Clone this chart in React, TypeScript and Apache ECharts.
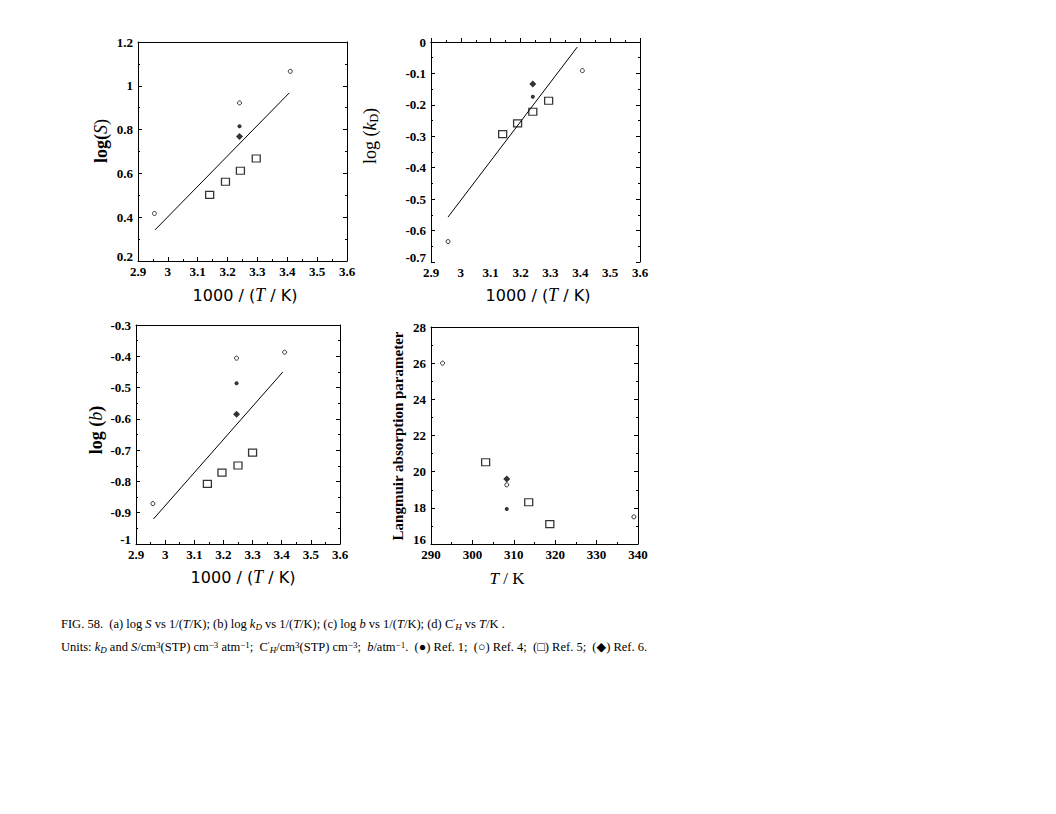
import React, { useEffect, useRef } from "react";
import * as echarts from "echarts";

// Panel (a): log S vs 1000/(T/K)
const aRef1 = [[3.24, 0.815]];
const aRef4 = [[2.955, 0.417], [3.24, 0.922], [3.41, 1.066]];
const aRef5 = [[3.14, 0.502], [3.193, 0.562], [3.243, 0.612], [3.296, 0.668]];
const aRef6 = [[3.24, 0.768]];
const aFit = [[2.957, 0.342], [3.407, 0.968]];

// Panel (b): log kD vs 1000/(T/K)
const bRef1 = [[3.241, -0.174]];
const bRef4 = [[2.957, -0.635], [3.407, -0.091]];
const bRef5 = [[3.14, -0.293], [3.19, -0.259], [3.241, -0.222], [3.294, -0.187]];
const bRef6 = [[3.241, -0.134]];
const bFit = [[2.957, -0.557], [3.39, -0.016]];

// Panel (c): log b vs 1000/(T/K)
const cRef1 = [[3.245, -0.486]];
const cRef4 = [[2.958, -0.871], [3.245, -0.406], [3.41, -0.387]];
const cRef5 = [[3.145, -0.808], [3.195, -0.772], [3.25, -0.749], [3.3, -0.708]];
const cRef6 = [[3.245, -0.585]];
const cFit = [[2.96, -0.92], [3.404, -0.45]];

// Panel (d): Langmuir absorption parameter vs T/K
const dRef1 = [[308.3, 17.93]];
const dRef4 = [[292.8, 26.0], [308.3, 19.27], [339.0, 17.5]];
const dRef5 = [[303.2, 20.52], [313.6, 18.31], [318.7, 17.1]];
const dRef6 = [[308.3, 19.6]];

const xTicksInv = { min: 2.9, max: 3.6, interval: 0.1 };
const yA = { min: 0.2, max: 1.2, interval: 0.2 };
const yB = { min: -0.7, max: 0, interval: 0.1 };
const yC = { min: -1, max: -0.3, interval: 0.1 };
const xD = { min: 290, max: 340, interval: 10 };
const yD = { min: 16, max: 28, interval: 2 };

const serif = "'Liberation Serif', 'DejaVu Serif', serif";

export default function App() {
  const ref = useRef<HTMLDivElement>(null);
  useEffect(() => {
    if (!ref.current) return;
    const chart = echarts.init(ref.current, undefined, { renderer: "svg" });

    const grids = [
      { left: 138, top: 42, width: 209, height: 219 },
      { left: 431, top: 42, width: 209, height: 220 },
      { left: 136, top: 325, width: 204, height: 219 },
      { left: 431, top: 327, width: 207, height: 217 },
    ];
    const xr = [xTicksInv, xTicksInv, xTicksInv, xD];
    const yr = [yA, yB, yC, yD];

    const fmtNum = (v: number) => String(Math.round(v * 100) / 100);

    const axisCommon = (pos: string) => ({
      axisLine: { show: true, lineStyle: { color: "#000", width: 1 } },
      axisTick: { show: true, inside: true, length: 4, lineStyle: { color: "#000" } },
      minorTick: { show: true, splitNumber: 2, length: 2, lineStyle: { color: "#000" } },
      splitLine: { show: false },
      position: pos,
    });

    const labelFont = {
      color: "#000",
      fontFamily: serif,
      fontSize: 13,
      fontWeight: "bold" as const,
    };

    const xAxis: any[] = [];
    const yAxis: any[] = [];
    grids.forEach((g, i) => {
      const ymin = yr[i].min;
      xAxis.push({
        type: "value",
        gridIndex: i,
        ...xr[i],
        ...axisCommon("bottom"),
        axisLabel: { ...labelFont, margin: 4, formatter: fmtNum },
      });
      xAxis.push({
        type: "value",
        gridIndex: i,
        ...xr[i],
        ...axisCommon("top"),
        minorTick: { show: false },
        axisTick: { show: false },
        axisLabel: { show: false },
      });
      yAxis.push({
        type: "value",
        gridIndex: i,
        ...yr[i],
        ...axisCommon("left"),
        axisLabel: {
          ...labelFont,
          margin: 5,
          formatter: (v: number) =>
            Math.abs(v - ymin) < 1e-9 ? `{lo|${fmtNum(v)}}` : fmtNum(v),
          rich: {
            lo: { ...labelFont, padding: [0, 0, 10, 0] },
          },
        },
      });
      yAxis.push({
        type: "value",
        gridIndex: i,
        ...yr[i],
        ...axisCommon("right"),
        axisLabel: { show: false },
      });
    });

    const sets = [
      [aRef1, aRef4, aRef5, aRef6, aFit],
      [bRef1, bRef4, bRef5, bRef6, bFit],
      [cRef1, cRef4, cRef5, cRef6, cFit],
      [dRef1, dRef4, dRef5, dRef6, null],
    ];

    const series: any[] = [];
    sets.forEach((s, i) => {
      const xi = i * 2;
      const yi = i * 2;
      series.push({
        type: "scatter", name: "Ref. 1", xAxisIndex: xi, yAxisIndex: yi, data: s[0],
        symbol: "circle", symbolSize: 4, itemStyle: { color: "#000" },
      });
      series.push({
        type: "scatter", name: "Ref. 4", xAxisIndex: xi, yAxisIndex: yi, data: s[1],
        symbol: "circle", symbolSize: 4,
        itemStyle: { color: "#fff", borderColor: "#000", borderWidth: 1 },
      });
      series.push({
        type: "scatter", name: "Ref. 5", xAxisIndex: xi, yAxisIndex: yi, data: s[2],
        symbol: "rect", symbolSize: [8, 7],
        itemStyle: { color: "#fff", borderColor: "#000", borderWidth: 1.2 },
      });
      series.push({
        type: "scatter", name: "Ref. 6", xAxisIndex: xi, yAxisIndex: yi, data: s[3],
        symbol: "diamond", symbolSize: 7, itemStyle: { color: "#000" },
      });
      if (s[4]) {
        series.push({
          type: "line", xAxisIndex: xi, yAxisIndex: yi, data: s[4],
          showSymbol: false, lineStyle: { color: "#000", width: 1 },
        });
      }
    });

    const xTitleRich = {
      n: { fontFamily: "'DejaVu Sans', sans-serif", fontSize: 16, fill: "#000" },
      i: { fontFamily: serif, fontStyle: "italic", fontSize: 18, fill: "#000" },
    };
    const xTitle = (x: number, y: number) => ({
      type: "text",
      x, y,
      style: {
        text: "{n|1000 / (}{i|T}{n| / K)}",
        rich: xTitleRich,
        align: "center",
        verticalAlign: "middle",
      },
    });

    const yTitle = (x: number, y: number, text: string, rich: any) => ({
      type: "text",
      x, y,
      rotation: Math.PI / 2,
      style: { text, rich, align: "center", verticalAlign: "middle" },
    });

    const ylRich = {
      n: { fontFamily: serif, fontWeight: "bold", fontSize: 18, fill: "#000" },
      r: { fontFamily: serif, fontSize: 18, fill: "#000" },
      i: { fontFamily: serif, fontStyle: "italic", fontSize: 18, fill: "#000" },
      s: { fontFamily: serif, fontSize: 12, fill: "#000", padding: [8, 0, 0, 0] },
    };

    const capRich = {
      n: { fontFamily: serif, fontSize: 12.5, fill: "#000" },
      i: { fontFamily: serif, fontSize: 12.5, fontStyle: "italic", fill: "#000" },
      sub: { fontFamily: serif, fontSize: 9, fontStyle: "italic", fill: "#000", padding: [5, 0, 0, 0] },
      sup: { fontFamily: serif, fontSize: 9, fill: "#000", padding: [0, 0, 5, 0] },
    };

    const graphic: any[] = [
      xTitle(245, 295),
      xTitle(538, 295),
      xTitle(243, 577),
      {
        type: "text", x: 507, y: 578,
        style: {
          text: "{i|T}{n| / K}",
          rich: {
            n: { fontFamily: serif, fontSize: 17, fill: "#000" },
            i: { fontFamily: serif, fontStyle: "italic", fontSize: 17, fill: "#000" },
          },
          align: "center", verticalAlign: "middle",
        },
      },
      yTitle(101, 141, "{n|log(}{i|S}{r|)}", ylRich),
      yTitle(370, 136, "{r|log (}{i|k}{s|D}{r|)}", ylRich),
      yTitle(96, 430, "{n|log (}{i|b}{n|)}", ylRich),
      yTitle(398, 436, "{n|Langmuir absorption parameter}", {
        n: { fontFamily: serif, fontWeight: "bold", fontSize: 15, fill: "#000" },
      }),
      {
        type: "text", x: 61, y: 624,
        style: {
          text:
            "{n|FIG. 58.  (a) log }{i|S}{n| vs 1/(}{i|T}{n|/K); (b) log }{i|k}{sub|D}{n| vs 1/(}{i|T}{n|/K); (c) log }{i|b}{n| vs 1/(}{i|T}{n|/K); (d) C}{sup|′}{sub|H}{n| vs }{i|T}{n|/K .}",
          rich: capRich,
          align: "left", verticalAlign: "middle",
        },
      },
      {
        type: "text", x: 61, y: 647,
        style: {
          text:
            "{n|Units: }{i|k}{sub|D}{n| and }{i|S}{n|/cm}{sup|3}{n|(STP) cm}{sup|−3}{n| atm}{sup|−1}{n|;  C}{sup|′}{sub|H}{n|/cm}{sup|3}{n|(STP) cm}{sup|−3}{n|;  }{i|b}{n|/atm}{sup|−1}{n|.  (●) Ref. 1;  (○) Ref. 4;  (□) Ref. 5;  (◆) Ref. 6.}",
          rich: capRich,
          align: "left", verticalAlign: "middle",
        },
      },
    ];

    chart.setOption({
      animation: false,
      backgroundColor: "#fff",
      grid: grids.map((g) => ({ ...g, show: false })),
      xAxis,
      yAxis,
      series,
      graphic,
    });
    return () => chart.dispose();
  }, []);

  return (
    <div
      ref={ref}
      style={{ position: "absolute", left: 0, top: 0, width: 1056, height: 814 }}
    />
  );
}
